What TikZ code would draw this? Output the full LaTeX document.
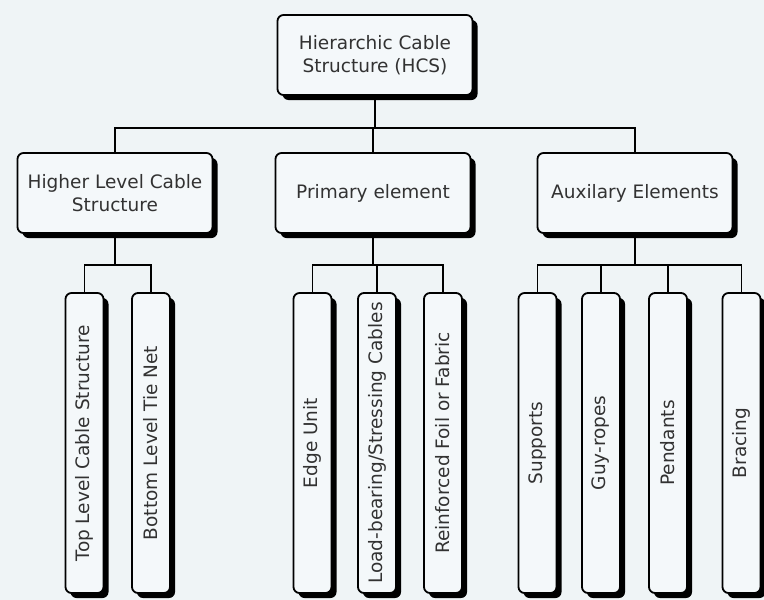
\documentclass[tikz,border=0pt]{standalone}
\usepackage{fontspec}
\setmainfont{DejaVu Sans}
\usetikzlibrary{shadows}
\definecolor{bgc}{RGB}{239,244,246}
\definecolor{boxc}{RGB}{244,248,250}
\definecolor{txt}{RGB}{50,50,50}
\tikzset{
  base/.style={draw=black, line width=1.8pt, rounded corners=6pt, fill=boxc,
    text=txt, font=\fontsize{18.5}{22.5}\selectfont, align=center, inner sep=0pt,
    drop shadow={shadow xshift=5pt, shadow yshift=-5pt, fill=black, opacity=1}},
  hbox/.style={base, minimum width=195pt, minimum height=80pt},
  vbox/.style={base, minimum width=38pt, minimum height=300pt},
  conn/.style={draw=black, line width=1.8pt}
}
\newcommand{\vt}[1]{\rotatebox{90}{#1}}
\begin{document}
\begin{tikzpicture}[x=1pt,y=-1pt]
\fill[bgc] (0,0) rectangle (764,600);
\useasboundingbox (0,0) rectangle (764,600);
\coordinate (bus1) at (0,128);
\coordinate (busa) at (0,265);
% nodes
\node[hbox] (top) at (375,55) {Hierarchic Cable\\Structure (HCS)};
\node[hbox] (hl) at (115,193) {Higher Level Cable\\Structure};
\node[hbox] (pe) at (373,193) {Primary element};
\node[hbox] (ae) at (635,193) {Auxilary Elements};
\node[vbox] (tl) at (84.5,443) {\vt{Top Level Cable Structure}};
\node[vbox] (bl) at (151,443) {\vt{Bottom Level Tie Net}};
\node[vbox] (eu) at (312.5,443) {\vt{Edge Unit}};
\node[vbox] (lb) at (377,443) {\vt{Load-bearing/Stressing Cables}};
\node[vbox] (rf) at (443,443) {\vt{Reinforced Foil or Fabric}};
\node[vbox] (su) at (537.5,443) {\vt{Supports}};
\node[vbox] (gr) at (601,443) {\vt{Guy-ropes}};
\node[vbox] (pd) at (668,443) {\vt{Pendants}};
\node[vbox] (br) at (741.5,443) {\vt{Bracing}};
% connectors level 1
\draw[conn] (top.south) -- (top.south |- bus1);
\draw[conn] (hl.north) -- (hl.north |- bus1) -- (ae.north |- bus1) -- (ae.north);
\draw[conn] (pe.north) -- (pe.north |- bus1);
% left group
\draw[conn] (hl.south) -- (hl.south |- busa);
\draw[conn] (tl.north) -- (tl.north |- busa) -- (bl.north |- busa) -- (bl.north);
% middle group
\draw[conn] (pe.south) -- (pe.south |- busa);
\draw[conn] (eu.north) -- (eu.north |- busa) -- (rf.north |- busa) -- (rf.north);
\draw[conn] (lb.north) -- (lb.north |- busa);
% right group
\draw[conn] (ae.south) -- (ae.south |- busa);
\draw[conn] (su.north) -- (su.north |- busa) -- (br.north |- busa) -- (br.north);
\draw[conn] (gr.north) -- (gr.north |- busa);
\draw[conn] (pd.north) -- (pd.north |- busa);
\end{tikzpicture}
\end{document}
